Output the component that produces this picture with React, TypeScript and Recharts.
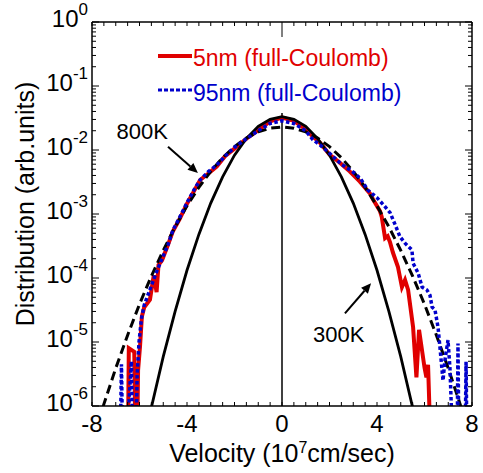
import React from "react";
import { LineChart, Line, XAxis, YAxis, ReferenceLine, Legend } from "recharts";

const FONT = '"Liberation Sans", Arial, sans-serif';
const RED = "#e00000";
const BLUE = "#0000cc";

const W = 483;
const H = 473;
// axes take 1px each, so plot area is 92..472 x 22..406
const M = { top: 21, right: 10, bottom: 66, left: 91 };
const PL = 92;
const PR = 472;
const PT = 22;
const PB = 406;

// tick labels
const xLabels = [-8, -4, 0, 4, 8];
const yDecades = [-6, -5, -4, -3, -2, -1, 0];

// 300K Maxwellian (solid black)
const v300 = [-5.6, -5.5, -5, -4.5, -4, -3.5, -3, -2.5, -2, -1.5, -1, -0.5, 0, 0.5, 1, 1.5, 2, 2.5, 3, 3.5, 4, 4.5, 5, 5.5, 5.6];
const f300 = [6e-7, 9.5e-7, 5.9e-6, 3.0e-5, 1.32e-4, 4.8e-4, 1.48e-3, 3.8e-3, 8.3e-3, 1.51e-2, 2.34e-2, 3.02e-2, 3.31e-2, 3.02e-2, 2.34e-2, 1.51e-2, 8.3e-3, 3.8e-3, 1.48e-3, 4.8e-4, 1.32e-4, 3.0e-5, 5.9e-6, 9.5e-7, 6e-7];

// 800K Maxwellian (dashed black)
const v800 = [-7.7, -7.5, -7, -6.5, -6, -5.5, -5, -4.5, -4, -3.5, -3, -2.5, -2, -1.5, -1, -0.5, 0, 0.5, 1, 1.5, 2, 2.5, 3, 3.5, 4, 4.5, 5, 5.5, 6, 6.5, 7, 7.5, 7.7];
const f800 = [6e-7, 1.07e-6, 3.9e-6, 1.28e-5, 3.9e-5, 1.07e-4, 2.7e-4, 6.3e-4, 1.34e-3, 2.61e-3, 4.65e-3, 7.57e-3, 1.13e-2, 1.54e-2, 1.92e-2, 2.19e-2, 2.29e-2, 2.19e-2, 1.92e-2, 1.54e-2, 1.13e-2, 7.57e-3, 4.65e-3, 2.61e-3, 1.34e-3, 6.3e-4, 2.7e-4, 1.07e-4, 3.9e-5, 1.28e-5, 3.9e-6, 1.07e-6, 6e-7];

// 5nm (full-Coulomb)
const v5 = [-6.48, -6.45, -6.22, -6.18, -6.09, -6.06, -5.98, -5.9, -5.8, -5.56, -5.4, -5.28, -5.2, -5.05, -4.8, -4.6, -4.3, -4.0, -3.7, -3.45, -3.1, -2.75, -2.4, -2.0, -1.5, -1.0, -0.5, 0, 0.5, 1.0, 1.3, 1.6, 2.0, 2.4, 2.86, 3.28, 3.7, 3.83, 4.13, 4.2, 4.34, 4.45, 4.55, 4.67, 4.88, 5.05, 5.18, 5.31, 5.52, 5.66, 5.77, 6.0, 6.08, 6.15, 6.23];
const f5 = [5e-7, 8e-6, 7e-6, 5e-7, 5e-7, 3.6e-6, 8.3e-6, 2.5e-5, 3.5e-5, 4.6e-5, 1.1e-4, 6e-5, 1.6e-4, 1.9e-4, 3.3e-4, 5.3e-4, 8.5e-4, 1.45e-3, 2.3e-3, 3.4e-3, 4.3e-3, 5.5e-3, 8.0e-3, 1.05e-2, 1.5e-2, 2.05e-2, 2.8e-2, 3.2e-2, 2.85e-2, 2.1e-2, 1.62e-2, 1.3e-2, 8.5e-3, 6.5e-3, 4.6e-3, 3.2e-3, 2.1e-3, 1.7e-3, 1.1e-3, 9e-4, 4.2e-4, 4.5e-4, 3.6e-4, 2.5e-4, 1.5e-4, 7.2e-5, 9.3e-5, 6.5e-5, 1.7e-5, 2.8e-6, 1.55e-5, 4e-6, 2.8e-6, 4.4e-6, 5e-7];

// 95nm (full-Coulomb)
const v95 = [-6.8, -6.76, -6.72, -6.5, -6.34, -6.3, -6.14, -6.1, -6.02, -5.92, -5.8, -5.64, -5.45, -5.3, -5.05, -4.8, -4.59, -4.3, -4.0, -3.7, -3.45, -3.1, -2.75, -2.4, -2.0, -1.5, -1.0, -0.5, 0, 0.5, 1.0, 1.3, 1.6, 2.0, 2.5, 2.97, 3.3, 3.62, 4.0, 4.3, 4.55, 4.75, 4.97, 5.18, 5.47, 5.52, 5.73, 5.9, 6.1, 6.23, 6.32, 6.44, 6.57, 6.65, 6.78, 6.86, 6.99, 7.07, 7.16, 7.38, 7.41, 7.44, 7.72, 7.75, 7.78];
const f95 = [5e-7, 4.5e-6, 5e-7, 5e-7, 5e-6, 5e-7, 5e-7, 3e-6, 1e-5, 2.3e-5, 3.8e-5, 5.5e-5, 8.5e-5, 1.2e-4, 2e-4, 3.3e-4, 5.6e-4, 9e-4, 1.5e-3, 2.4e-3, 3.4e-3, 4.6e-3, 5.8e-3, 8.0e-3, 1.1e-2, 1.5e-2, 2.0e-2, 2.6e-2, 2.85e-2, 2.6e-2, 2.0e-2, 1.45e-2, 1.2e-2, 8.9e-3, 6.0e-3, 4.6e-3, 3.6e-3, 2.35e-3, 1.8e-3, 1.35e-3, 1.05e-3, 7e-4, 4.4e-4, 3.5e-4, 2.75e-4, 1.7e-4, 1.2e-4, 7.2e-5, 6.5e-5, 5.4e-5, 3.5e-5, 3.2e-5, 1.7e-5, 8.3e-6, 2.5e-6, 5.2e-6, 1.07e-5, 4e-6, 5e-7, 5e-7, 9.5e-6, 5e-7, 5e-7, 4.9e-6, 5e-7];

const zip = (v: number[], f: number[]) => v.map((x, i) => ({ v: x, f: f[i] }));
const d300 = zip(v300, f300);
const d800 = zip(v800, f800);
const d5 = zip(v5, f5);
const d95 = zip(v95, f95);

const xTicks: number[] = [];
for (let t = -8; t <= 8; t += 0.5) xTicks.push(t);
const yTicks: number[] = [];
yDecades.forEach((e) => {
  if (e === 0) {
    yTicks.push(1);
    return;
  }
  for (let m = 1; m <= 9; m++) yTicks.push(m * Math.pow(10, e));
});

const isDecade = (val: number) => Math.abs(Math.log10(val) - Math.round(Math.log10(val))) < 1e-6;

const BottomTick = (p: any) => {
  const val = p.payload.value;
  const x = p.x;
  return (
    <g>
      <line x1={x} y1={PB} x2={x} y2={PB - 4} stroke="#000" strokeWidth={1} />
      {xLabels.includes(val) && (
        <text x={x} y={PB + 26} textAnchor="middle" fontSize={24} fontFamily={FONT} fill="#000">
          {val}
        </text>
      )}
    </g>
  );
};

const TopTick = (p: any) => {
  const val = p.payload.value;
  const len = val === 0 ? 15 : 4;
  return <line x1={p.x} y1={PT} x2={p.x} y2={PT + len} stroke="#000" strokeWidth={1} />;
};

const LeftTick = (p: any) => {
  const val = p.payload.value;
  const y = p.y;
  const major = isDecade(val);
  const e = Math.round(Math.log10(val));
  return (
    <g>
      <line x1={PL} y1={y} x2={PL + (major ? 7 : 4)} y2={y} stroke="#000" strokeWidth={1} />
      {major && (
        <text x={PL - 4} y={y + 5} textAnchor="end" fontSize={24} fontFamily={FONT} fill="#000">
          10
          <tspan dy={-12} fontSize={17}>
            {String(e)}
          </tspan>
        </text>
      )}
    </g>
  );
};

const RightTick = (p: any) => {
  const val = p.payload.value;
  const major = isDecade(val);
  return <line x1={PR} y1={p.y} x2={PR - (major ? 7 : 4)} y2={p.y} stroke="#000" strokeWidth={1} />;
};

const XTitle = () => (
  <text x={282} y={462} textAnchor="middle" fontSize={25} fontFamily={FONT} fill="#000">
    Velocity (10
    <tspan dy={-9} fontSize={16}>7</tspan>
    <tspan dy={9}>cm/sec)</tspan>
  </text>
);

const YTitle = () => (
  <text x={34} y={204} transform="rotate(-90, 34, 204)" textAnchor="middle" fontSize={25} fontFamily={FONT} fill="#000">
    Distribution (arb.units)
  </text>
);

// arrow with text label, drawn from the reference segment end points
const arrow = (label: string, dx: number, dy: number, anchor: "start" | "end") => (p: any) => {
  const { x1, y1, x2, y2 } = p;
  const ang = Math.atan2(y2 - y1, x2 - x1);
  const L = 10;
  const Wd = 4.5;
  const bx = x2 - L * Math.cos(ang);
  const by = y2 - L * Math.sin(ang);
  const pts = `${x2},${y2} ${bx - Wd * Math.sin(ang)},${by + Wd * Math.cos(ang)} ${bx + Wd * Math.sin(ang)},${by - Wd * Math.cos(ang)}`;
  return (
    <g>
      <line x1={x1} y1={y1} x2={bx} y2={by} stroke="#000" strokeWidth={2} />
      <polygon points={pts} fill="#000" />
      <text x={x1 + dx} y={y1 + dy} textAnchor={anchor} fontSize={22} fontFamily={FONT} fill="#000">
        {label}
      </text>
    </g>
  );
};

const LegendBox = () => (
  <svg width={260} height={72} style={{ display: "block" }}>
    <line x1={8} y1={16} x2={42} y2={16} stroke={RED} strokeWidth={4} />
    <text x={43} y={26} fill={RED} fontSize={23} fontFamily={FONT}>
      5nm (full-Coulomb)
    </text>
    <line x1={8} y1={50} x2={42} y2={50} stroke={BLUE} strokeWidth={3} strokeDasharray="4 2" />
    <text x={43} y={61} fill={BLUE} fontSize={23} fontFamily={FONT}>
      95nm (full-Coulomb)
    </text>
  </svg>
);

export default function App() {
  return (
    <div style={{ position: "absolute", left: 0, top: 0, width: W, height: H, background: "#fff", fontFamily: FONT }}>
      <LineChart width={W} height={H} margin={M}>
        <XAxis
          xAxisId="b"
          type="number"
          dataKey="v"
          domain={[-8, 8]}
          allowDataOverflow
          ticks={xTicks}
          interval={0}
          height={1}
          tickLine={false}
          axisLine={{ stroke: "#000", strokeWidth: 1.5 }}
          tick={BottomTick}
          label={XTitle}
        />
        <XAxis
          xAxisId="t"
          orientation="top"
          type="number"
          dataKey="v"
          domain={[-8, 8]}
          allowDataOverflow
          ticks={xTicks}
          interval={0}
          height={1}
          tickLine={false}
          axisLine={{ stroke: "#000", strokeWidth: 1.5 }}
          tick={TopTick}
        />
        <YAxis
          yAxisId="l"
          scale="log"
          domain={[1e-6, 1]}
          allowDataOverflow
          ticks={yTicks}
          interval={0}
          width={1}
          tickLine={false}
          axisLine={{ stroke: "#000", strokeWidth: 1.5 }}
          tick={LeftTick}
          label={YTitle}
        />
        <YAxis
          yAxisId="r"
          orientation="right"
          scale="log"
          domain={[1e-6, 1]}
          allowDataOverflow
          ticks={yTicks}
          interval={0}
          width={1}
          tickLine={false}
          axisLine={{ stroke: "#000", strokeWidth: 1.5 }}
          tick={RightTick}
        />
        <ReferenceLine
          xAxisId="b"
          yAxisId="l"
          segment={[{ x: 0, y: 1e-6 }, { x: 0, y: 0.038 }]}
          stroke="#000"
          strokeWidth={1.5}
        />
        <Line xAxisId="b" yAxisId="l" data={d5} dataKey="f" type="linear" stroke={RED} strokeWidth={4} dot={false} isAnimationActive={false} />
        <Line xAxisId="b" yAxisId="l" data={d300} dataKey="f" type="linear" stroke="#000" strokeWidth={2.8} dot={false} isAnimationActive={false} />
        <Line xAxisId="b" yAxisId="l" data={d800} dataKey="f" type="linear" stroke="#000" strokeWidth={3} strokeDasharray="9 5" dot={false} isAnimationActive={false} />
        <Line xAxisId="b" yAxisId="l" data={d95} dataKey="f" type="linear" stroke={BLUE} strokeWidth={3.5} strokeDasharray="3.5 2.5" dot={false} isAnimationActive={false} />
        <ReferenceLine
          xAxisId="b"
          yAxisId="l"
          segment={[{ x: -4.8, y: 1.12e-2 }, { x: -3.54, y: 4.37e-3 }]}
          shape={arrow("800K", 0, -8, "end")}
        />
        <ReferenceLine
          xAxisId="b"
          yAxisId="l"
          segment={[{ x: 2.65, y: 2.8e-5 }, { x: 3.75, y: 8.3e-5 }]}
          shape={arrow("300K", -32, 29, "start")}
        />
        <Legend
          content={LegendBox}
          layout="vertical"
          align="center"
          verticalAlign="middle"
          wrapperStyle={{ position: "absolute", left: 150, top: 40, width: 260, height: 72 }}
        />
      </LineChart>
    </div>
  );
}
